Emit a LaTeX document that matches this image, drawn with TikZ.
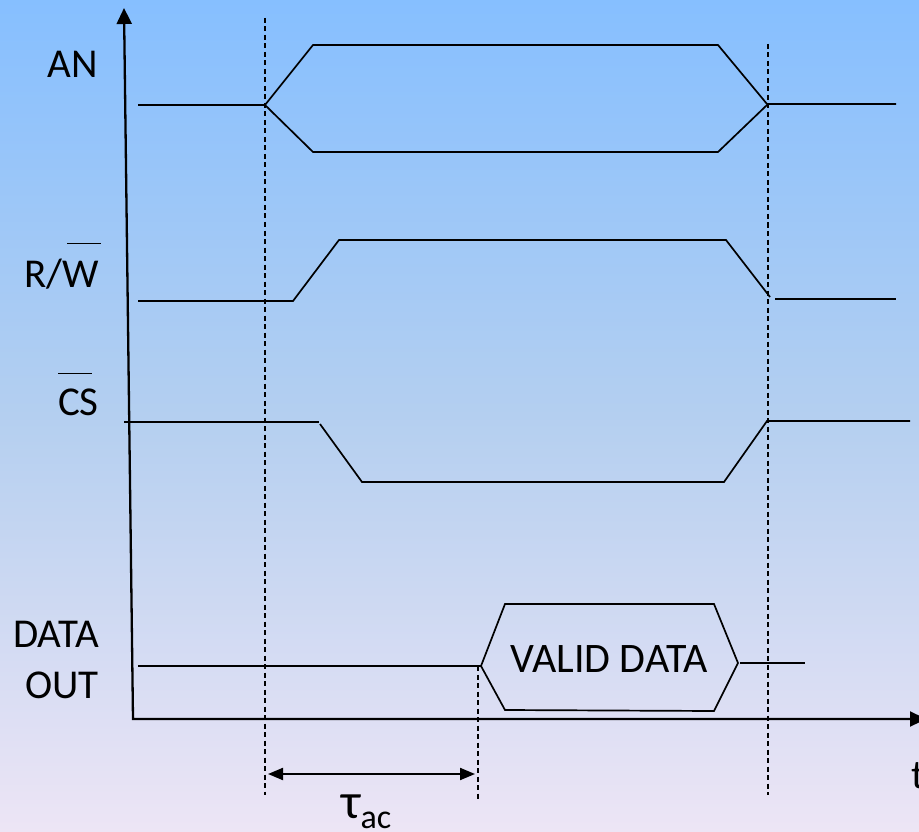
\documentclass[tikz,border=0pt]{standalone}
\usepackage{fontspec}
\setmainfont{Carlito}
\usetikzlibrary{arrows.meta}
\begin{document}
\begin{tikzpicture}[x=1pt,y=-1pt,
  sig/.style={line width=1.7pt, line join=miter},
  axisline/.style={line width=2.3pt},
  guide/.style={line width=1.3pt, dash pattern=on 5pt off 3.5pt},
  lbl/.style={font=\fontsize{41}{48}\selectfont, inner sep=0pt},
  ovl/.style={line width=0.9pt},
  bigtip/.tip={Triangle[length=16pt,width=15pt]},
  smalltip/.tip={Triangle[length=15pt,width=12pt]}]
\useasboundingbox (0,0) rectangle (919,832);
\shade[top color={rgb,255:red,134;green,191;blue,255},
       bottom color={rgb,255:red,237;green,229;blue,245},
       middle color={rgb,255:red,180;green,207;blue,240}] (0,0) rectangle (919,832);

% guide coordinates
\coordinate (g1t) at (265,18);  \coordinate (g1b) at (265,795);
\coordinate (g2t) at (768,44);  \coordinate (g2b) at (768,795);
\coordinate (g3t) at (478,666); \coordinate (g3b) at (478,801);
\draw[guide] (g1t) -- (g1b);
\draw[guide] (g2t) -- (g2b);
\draw[guide] (g3t) -- (g3b);

% axes
\coordinate (ytip) at (124,8);
\coordinate (O) at (133,719);
\coordinate (xtip) at (926,719);
\draw[axisline, bigtip-bigtip] (ytip) -- (O) -- (xtip);

% AN
\draw[sig] (138,105) -- (265,105) -- (313,45) -- (718,45) -- (767,104) -- (896,104);
\draw[sig] (265,105) -- (313,152) -- (718,152) -- (767,105);

% R/W
\draw[sig] (138,301) -- (293,301) -- (339,240) -- (726,240) -- (770,297);
\draw[sig] (775,299) -- (896,299);

% CS
\draw[sig] (124,422) -- (319,422);
\draw[sig] (320,424) -- (362,482) -- (724,482) -- (767,421) -- (910,421);

% DATA OUT
\draw[sig] (138,666) -- (481,666) -- (505,604) -- (714,604) -- (738,663) -- (714,711) -- (505,710) -- (481,666);
\draw[sig] (740,663) -- (805,663);

% labels
\node[lbl, anchor=base east] (an) at (98,78) {AN};
\node[lbl, anchor=base east] (rw) at (99,287) {R/W};
\node[lbl, anchor=base east] (cs) at (99,415) {CS};
\node[lbl, anchor=base east] (data) at (99,647) {DATA};
\node[lbl, anchor=base east] (out) at (99,698) {OUT};
\node[lbl, anchor=base, font=\fontsize{42}{48}\selectfont] (valid) at (609,672) {VALID DATA};
\node[lbl, anchor=base west] (t) at (911,788) {t};
\node[anchor=base west, inner sep=0pt] (tau) at (341,818)
  {\fontsize{50}{56}\selectfont τ\raisebox{-10pt}{\fontsize{34}{38}\selectfont ac}};

% overlines
\draw[ovl] (67,243) -- (101,243);
\draw[ovl] (58,373) -- (92,373);

% tau_ac interval
\coordinate (ta) at (265,774);
\coordinate (tb) at (478,774);
\draw[line width=2pt, smalltip-smalltip, shorten <=3pt, shorten >=3pt] (ta) -- (tb);
\end{tikzpicture}
\end{document}
